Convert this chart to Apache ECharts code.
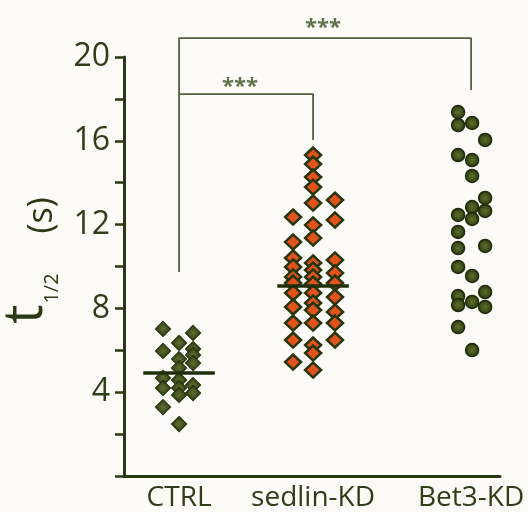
<!DOCTYPE html>
<html>
<head>
<meta charset="utf-8">
<script src="https://cdn.jsdelivr.net/npm/echarts@6/dist/echarts.min.js"></script>
<style>
html,body{margin:0;padding:0;background:#fcfbf7;}
#chart{width:528px;height:512px;}
</style>
</head>
<body>
<div id="chart"></div>
<script>
// ---- data ----
const categories = ['CTRL', 'sedlin-KD', 'Bet3-KD'];
const groupPos = [1, 1.918, 3];          // category positions on the x scale
const yTicks = [4, 8, 12, 16, 20];

const ctrlValues = [7.02, 6.83, 6.35, 5.97, 6.06, 5.78, 5.58, 5.39, 5.16, 4.68, 4.58, 4.34, 4.20, 4.20, 3.96, 3.87, 3.29, 2.48];
const ctrlCols   = [-1, 1, 0, -1, 1, 1, 0, 1, 0, -1, 0, 1, -1, 0, 1, 0, -1, 0];

const sedlinValues = [15.32, 14.89, 14.27, 13.79, 13.03, 13.17, 12.36, 12.22, 11.98, 11.36, 11.17, 10.41, 9.98, 9.50, 10.17, 9.83, 9.50, 10.31, 9.69, 9.21, 9.16, 9.21, 8.74, 8.74, 8.54, 8.07, 8.26, 7.92, 7.83, 7.30, 7.30, 7.30, 6.49, 6.49, 6.25, 5.87, 5.44, 5.06];
const sedlinCols   = [0, 0, 0, 0, 0, 1, -1, 1, 0, 0, -1, -1, -1, -1, 0, 0, 0, 1, 1, -1, 0, 1, -1, 0, 1, -1, 0, 0, 1, -1, 0, 1, 1, -1, 0, 0, -1, 0];

const bet3Values = [17.37, 16.75, 16.85, 16.04, 15.32, 15.08, 14.32, 13.27, 12.84, 12.65, 12.46, 12.27, 11.65, 10.88, 10.98, 9.98, 9.55, 8.78, 8.59, 8.16, 8.31, 8.07, 7.11, 6.01];
const bet3Cols   = [-1, -1, 0, 1, -1, 0, 0, 1, 0, 1, -1, 0, -1, -1, 1, -1, 0, 1, -1, -1, 0, 1, -1, 0];

const means = [4.95, 9.1, 11.5];

// significance brackets (y levels)
const bracketTop = {y: 20.9, leftBottom: 9.74, rightBottom: 18.42, label: '***'};
const bracketLow = {y: 18.23, rightBottom: 16.04, label: '***'};

// ---- style constants ----
const colSpread = [[-0.11, 0, 0.096], [-0.137, 0, 0.15], [-0.089, 0.007, 0.096]];
const meanHalf = 0.245;
const ink = '#2a3912';
const textInk = '#2f3d18';

function pts(vals, cols, g) {
  return vals.map((v, i) => [groupPos[g] + colSpread[g][cols[i] + 1], v]);
}
function meanLine(g) {
  return {
    silent: true, symbol: 'none', animation: false,
    lineStyle: {color: '#1f2e0b', width: 3.5, type: 'solid'},
    label: {show: false},
    data: [[{coord: [groupPos[g] - meanHalf, means[g]]}, {coord: [groupPos[g] + meanHalf, means[g]]}]]
  };
}
function radial(c0, c1) {
  return {type: 'radial', x: 0.5, y: 0.5, r: 0.5, colorStops: [{offset: 0, color: c0}, {offset: 1, color: c1}]};
}

const chart = echarts.init(document.getElementById('chart'), null, {renderer: 'canvas'});
const font = 'Open Sans';

chart.setOption({
  backgroundColor: '#fcfbf7',
  animation: false,
  grid: {left: 124, right: 28, top: 57, bottom: 36, containLabel: false, outerBoundsMode: 'none'},
  xAxis: {
    type: 'value', min: 0.623, max: 3.198,
    splitLine: {show: false},
    axisLine: {show: true, onZero: false, lineStyle: {color: ink, width: 3}},
    axisTick: {show: false},
    axisLabel: {
      show: true, customValues: groupPos, margin: 8,
      color: textInk, fontFamily: font, fontSize: 28,
      formatter: function (v) {
        const i = groupPos.findIndex(p => Math.abs(p - v) < 1e-6);
        return i >= 0 ? categories[i] : '';
      }
    }
  },
  yAxis: {
    type: 'value', min: 0, max: 20, interval: 2,
    splitLine: {show: false},
    axisLine: {show: true, lineStyle: {color: ink, width: 3}},
    axisTick: {show: true, length: 9, lineStyle: {color: ink, width: 2.5}},
    axisLabel: {
      margin: 14, color: textInk, fontFamily: font, fontSize: 32,
      formatter: v => (yTicks.indexOf(v) >= 0 ? String(v) : '')
    },
    name: '{t|t}{sub|1/2}{sp|}{s|(s)}',
    nameLocation: 'middle', nameRotate: 90, nameGap: 70,
    nameTextStyle: {
      rich: {
        t: {fontFamily: font, fontSize: 54, color: ink, lineHeight: 58, verticalAlign: 'bottom', padding: [0, 0, 0, 12]},
        sub: {fontFamily: font, fontSize: 20, color: ink, verticalAlign: 'bottom', lineHeight: 58, padding: [0, 0, -9, 1]},
        sp: {width: 40, lineHeight: 58},
        s: {fontFamily: font, fontSize: 34, color: ink, lineHeight: 58, verticalAlign: 'bottom', padding: [0, 0, -6, 0]}
      }
    }
  },
  series: [
    {
      name: categories[0], type: 'scatter', data: pts(ctrlValues, ctrlCols, 0),
      symbol: 'diamond', symbolSize: [15, 15],
      itemStyle: {color: radial('#5d6d30', '#2d3e12'), borderColor: '#22300b', borderWidth: 1.2, opacity: 1},
      markLine: meanLine(0), z: 3
    },
    {
      name: categories[1], type: 'scatter', data: pts(sedlinValues, sedlinCols, 1),
      symbol: 'diamond', symbolSize: [16, 15],
      itemStyle: {color: '#e0531c', borderColor: '#26350d', borderWidth: 2.5, opacity: 1},
      markLine: meanLine(1), z: 3
    },
    {
      name: categories[2], type: 'scatter', data: pts(bet3Values, bet3Cols, 2),
      symbol: 'circle', symbolSize: 13,
      itemStyle: {color: radial('#5f6f2c', '#2a3a0f'), borderColor: '#1c2a08', borderWidth: 1.5, opacity: 1},
      markLine: meanLine(2), z: 3
    },
    {
      type: 'line', clip: false, symbol: 'none', silent: true,
      lineStyle: {color: '#52623a', width: 1.8},
      data: [[groupPos[0], bracketTop.leftBottom], [groupPos[0], bracketTop.y], [groupPos[2], bracketTop.y], [groupPos[2], bracketTop.rightBottom]]
    },
    {
      type: 'line', clip: false, symbol: 'none', silent: true,
      lineStyle: {color: '#52623a', width: 1.8},
      data: [[groupPos[0], bracketLow.y], [groupPos[1], bracketLow.y], [groupPos[1], bracketLow.rightBottom]]
    },
    {
      type: 'scatter', clip: false, symbolSize: 1, silent: true,
      itemStyle: {color: 'rgba(0,0,0,0)'},
      label: {show: true, position: 'inside', formatter: p => p.data[2], color: '#3c5220', fontFamily: font, fontWeight: 'bold', fontSize: 22},
      data: [[1.986, 21.38, bracketTop.label], [1.418, 18.59, bracketLow.label]]
    }
  ]
});
</script>
</body>
</html>
